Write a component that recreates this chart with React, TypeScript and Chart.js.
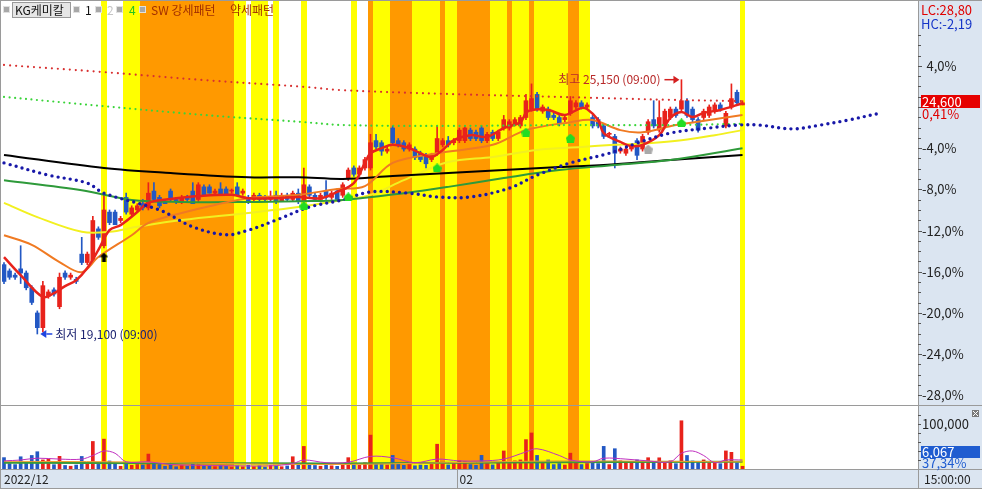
import React, { useEffect, useRef } from 'react';
import { Chart, registerables } from 'chart.js';

Chart.register(...registerables);

// ---------------- data ----------------
const STOCK_NAME = 'KG케미칼';
const BASE_PRICE = 24500;

const OPEN = [
  20750, 20600, 20500, 20650, 20550, 20200, 19600, 19250, 20000, 20150,
  19750, 20550, 20450, 20400, 21000, 20800, 20850, 21600, 21200, 22000,
  22000, 21800, 22350, 21950, 22050, 22200, 22100, 22500, 22350, 22250,
  22500, 22300, 22250, 22350, 22500, 22300, 22600, 22600, 22450, 22550,
  22550, 22500, 22600, 22450, 22350, 22300, 22400, 22350, 22300, 22400,
  22250, 22400, 22300, 22450, 22250, 22600, 22400, 22300, 22500, 22350,
  22500, 22400, 22800, 23050, 22900, 23050, 23050, 23700, 23650, 23450,
  24000, 23700, 23650, 23500, 23500, 23400, 23350, 23250, 23400, 23600,
  23700, 23650, 23700, 23700, 23950, 23900, 24000, 23700, 23900, 23750,
  24000, 24000, 24100, 24050, 24250, 24450, 24800, 24400, 24450, 24300,
  24250, 24200, 24350, 24500, 24600, 24500, 24250, 24200, 24050, 23850,
  23800, 23450, 23400, 23500, 23700, 23500, 23900, 24200, 23950, 24050,
  24250, 24450, 24450, 24650, 24450, 24200, 24250, 24300, 24400, 24550,
  24050, 24500, 24850, 24550,
];
const HIGH = [
  20800, 20650, 20550, 21200, 20600, 20250, 19650, 20350, 20150, 20200,
  20550, 20600, 20550, 20450, 21400, 21050, 21900, 21650, 22400, 22050,
  22050, 21900, 22450, 22150, 22200, 22300, 22700, 22700, 22400, 22300,
  22550, 22350, 22400, 22400, 22700, 22700, 22650, 22650, 22550, 22700,
  22600, 22550, 22700, 22550, 22400, 22450, 22450, 22400, 22500, 22500,
  22450, 22450, 22500, 22550, 23050, 22650, 22450, 22450, 22750, 22500,
  22550, 22700, 23050, 23100, 23100, 23300, 23850, 23850, 23700, 23550,
  24050, 23750, 23700, 23650, 23550, 23450, 23400, 23400, 24050, 23750,
  23800, 23750, 24000, 24050, 24000, 23950, 24050, 23900, 23950, 23950,
  24300, 24200, 24250, 24300, 24800, 25050, 24850, 24550, 24500, 24350,
  24300, 24300, 24750, 24650, 24650, 24600, 24300, 24250, 24100, 23900,
  23850, 23550, 23550, 23600, 23750, 23850, 24200, 24650, 24650, 24450,
  24500, 24500, 25150, 24700, 24500, 24250, 24450, 24550, 24600, 24600,
  24400, 25050, 24900, 24650,
];
const LOW = [
  20300, 20400, 20400, 20300, 20150, 19800, 19100, 19150, 19950, 20000,
  19700, 20400, 20400, 20300, 20750, 20750, 20800, 21350, 21150, 21700,
  21700, 21750, 21950, 21900, 22000, 22050, 22050, 22250, 22100, 22200,
  22250, 22200, 22200, 22250, 22200, 22250, 22400, 22450, 22400, 22400,
  22400, 22450, 22400, 22400, 22200, 22250, 22250, 22250, 22250, 22200,
  22250, 22250, 22250, 22200, 22200, 22350, 22250, 22250, 22300, 22300,
  22250, 22350, 22750, 22850, 22850, 23000, 23000, 23500, 23350, 23400,
  23600, 23550, 23450, 23450, 23250, 23200, 23050, 23200, 23350, 23550,
  23550, 23600, 23650, 23650, 23700, 23700, 23650, 23650, 23700, 23700,
  23950, 23950, 24050, 24000, 24200, 24400, 24400, 24350, 24200, 24200,
  24050, 24150, 24300, 24450, 24450, 24450, 24000, 24000, 23750, 23800,
  23050, 23400, 23350, 23450, 23250, 23450, 23850, 24000, 23900, 24000,
  24200, 24250, 24400, 24250, 24150, 23900, 24200, 24250, 24350, 24400,
  24000, 24450, 24550, 24550,
];
const CLOSE = [
  20350, 20450, 20450, 20550, 20200, 19850, 19250, 20250, 20100, 20050,
  20450, 20450, 20500, 20350, 20800, 21000, 21800, 21400, 22050, 21750,
  21700, 21850, 22000, 22100, 22150, 22100, 22450, 22300, 22150, 22200,
  22300, 22250, 22350, 22300, 22200, 22650, 22400, 22450, 22500, 22400,
  22400, 22500, 22400, 22500, 22250, 22400, 22300, 22300, 22350, 22250,
  22400, 22300, 22450, 22250, 22650, 22400, 22300, 22400, 22350, 22450,
  22300, 22650, 23000, 22900, 23050, 23250, 23650, 23550, 23450, 23500,
  23650, 23600, 23500, 23600, 23300, 23250, 23150, 23350, 23750, 23700,
  23600, 23700, 23950, 24000, 23750, 23750, 23700, 23850, 23750, 23900,
  24200, 24150, 24200, 24250, 24650, 24700, 24450, 24500, 24250, 24250,
  24100, 24250, 24650, 24600, 24500, 24550, 24050, 24050, 23800, 23850,
  23400, 23500, 23500, 23550, 23350, 23800, 24150, 24050, 24250, 24400,
  24450, 24300, 24650, 24300, 24200, 23950, 24400, 24500, 24550, 24450,
  24350, 24700, 24600, 24600,
];
const VOLUME = [
  25300, 12100, 9800, 27200, 14300, 30100, 38400, 20200, 22300, 9600,
  28100, 7900, 6200, 8800, 27900, 11800, 61200, 10300, 66400, 17800,
  12200, 6100, 13900, 8200, 10100, 8900, 33200, 12300, 9900, 6100,
  9200, 5100, 7800, 6300, 10200, 9100, 7200, 5900, 5200, 7900,
  6100, 4200, 7100, 4900, 8100, 5200, 6900, 4100, 7800, 5900,
  5100, 6800, 27300, 9100, 50200, 10100, 7900, 6200, 8800, 7100,
  5900, 12100, 25200, 9900, 8100, 13800, 75300, 12100, 10200, 8900,
  30200, 11800, 8100, 9900, 7200, 8800, 8100, 10200, 55100, 13900,
  9100, 11900, 18200, 16100, 9800, 8100, 30300, 12100, 9200, 13800,
  40100, 12200, 18100, 20200, 65300, 80100, 30200, 13900, 20100, 9800,
  12100, 8900, 35200, 14100, 9900, 12200, 13900, 12100, 50300, 9800,
  45100, 18200, 13900, 16100, 20200, 15900, 25100, 14200, 24900, 16100,
  18200, 11900, 107200, 30100, 17900, 14100, 20200, 13800, 16200, 11900,
  40200, 37100, 13900, 6067,
];

// moving-average style lines: [candle index, value]
const MA_RED: [number, number][] = [
  [0, 20930], [3, 20500], [7, 19980], [9, 20070], [11, 20240], [13, 20380], [15, 20670], [17, 21100],
  [19, 21570], [21, 21690], [24, 22000], [26, 22220], [30, 22310], [35, 22380], [41, 22410], [44, 22330],
  [49, 22330], [53, 22360], [57, 22330], [60, 22480], [63, 22690], [65, 23170], [66, 23400], [68, 23520],
  [70, 23600], [73, 23520], [75, 23400], [77, 23310], [79, 23480], [81, 23710], [84, 23830], [87, 23790],
  [90, 24000], [93, 24140], [94, 24360], [95, 24430], [98, 24430], [101, 24310], [104, 24480], [105, 24450],
  [107, 24190], [108, 23880], [111, 23670], [113, 23570], [115, 23600], [118, 23830], [120, 24240],
  [122, 24380], [124, 24260], [126, 24360], [129, 24430], [133, 24590],
];
const MA_ORANGE: [number, number][] = [
  [0, 21450], [5, 21220], [10, 20810], [14, 20570], [17, 20930], [23, 21450], [26, 21740], [32, 21980],
  [38, 22170], [44, 22330], [53, 22410], [60, 22550], [65, 22620], [70, 23170], [78, 23400], [88, 23600],
  [94, 23950], [102, 24140], [106, 24190], [111, 23950], [115, 23900], [121, 24070], [127, 24190], [133, 24310],
];
const MA_YELLOW: [number, number][] = [
  [0, 22220], [6, 21880], [14, 21530], [19, 21530], [24, 21650], [32, 21810], [44, 21980], [53, 22120],
  [61, 22290], [66, 22410], [72, 22760], [80, 23190], [88, 23310], [96, 23480], [104, 23550], [110, 23600],
  [116, 23640], [122, 23710], [128, 23830], [133, 23950],
];
const MA_GREEN: [number, number][] = [
  [0, 22760], [14, 22520], [23, 22290], [32, 22240], [44, 22240], [53, 22260], [61, 22290], [72, 22450],
  [80, 22600], [90, 22810], [100, 23000], [110, 23120], [120, 23240], [133, 23520],
];
const MA_BLACK: [number, number][] = [
  [0, 23360], [18, 23050], [30, 22930], [44, 22830], [53, 22830], [61, 22790], [70, 22860], [80, 22930],
  [90, 23000], [100, 23070], [110, 23140], [120, 23240], [133, 23360],
];
const BLUE_DOTS: [number, number][] = [
  [0, 23170], [8, 22880], [15, 22690], [18, 22450], [28, 22050], [34, 21650], [40, 21460], [44, 21570],
  [49, 21810], [55, 22120], [61, 22290], [66, 22480], [73, 22450], [78, 22360], [84, 22360], [91, 22570],
  [96, 22880], [102, 23170], [109, 23400], [114, 23640], [120, 23880], [127, 24000], [132, 24070],
  [136, 24070], [142, 23980], [147, 24070], [152, 24190], [158, 24360],
];
const RED_DOTS: [number, number][] = [
  [0, 25500], [18, 25330], [36, 25140], [54, 24980], [61, 24900], [80, 24810], [100, 24740], [120, 24670], [133, 24640],
];
const GREEN_DOTS: [number, number][] = [
  [0, 24740], [18, 24520], [36, 24310], [54, 24140], [61, 24070], [80, 24050], [100, 24070], [120, 24070], [133, 24100],
];

// signal markers: [candle index, price]
const BUY_SIGNALS: [number, number][] = [[18, 20930]];
const PATTERN_SIGNALS: [number, number][] = [[54, 22150], [62, 22360], [78, 23050], [94, 23900], [102, 23760], [122, 24120]];
const GREY_SIGNALS: [number, number][] = [[116, 23500]];

// volume moving averages: [candle index, volume]
const VOL_MA_MAGENTA: [number, number][] = [
  [0, 18000], [3, 20000], [6, 24000], [10, 22000], [14, 22000], [16, 30000], [18, 40000], [20, 35000],
  [22, 16000], [26, 16000], [30, 10000], [36, 8000], [42, 7000], [48, 7000], [52, 12000], [54, 20000],
  [58, 14000], [62, 15000], [66, 28000], [70, 25000], [74, 14000], [78, 22000], [82, 18000], [86, 18000],
  [90, 22000], [94, 38000], [96, 45000], [100, 30000], [102, 20000], [106, 16000], [108, 24000], [112, 22000],
  [116, 18000], [120, 16000], [122, 35000], [124, 40000], [126, 30000], [128, 14000], [130, 20000], [133, 20000],
];
const VOL_MA_GREEN: [number, number][] = [[0, 14000], [30, 13000], [60, 12500], [90, 14500], [133, 16000]];
const VOL_MA_ORANGE: [number, number][] = [[0, 17000], [20, 16000], [40, 12000], [60, 10000], [80, 14000], [100, 18000], [120, 17000], [133, 16000]];

// pattern bands: [first candle, last candle, kind]  Y = weak pattern, O = strong pattern
const BANDS: [number, number, string][] = [
  [18, 18, 'Y'], [22, 24, 'Y'], [25, 41, 'O'], [42, 43, 'Y'], [45, 47, 'Y'], [49, 49, 'Y'], [54, 54, 'Y'],
  [63, 63, 'Y'], [66, 66, 'O'], [67, 69, 'Y'], [70, 73, 'O'], [74, 78, 'Y'], [79, 79, 'O'], [80, 81, 'Y'],
  [82, 87, 'O'], [88, 90, 'Y'], [91, 91, 'O'], [92, 94, 'Y'], [95, 95, 'O'], [96, 101, 'Y'], [102, 103, 'O'],
  [104, 105, 'Y'], [133, 133, 'Y'],
];

const PCT_TICKS = [4, -4, -8, -12, -16, -20, -24, -28];
const VOL_TICK_LABELS = [100000];
const DATE_TICK_INDEX = [0, 82];
const DATE_TICK_TEXT = ['2022/12', '02'];
const TIME_LABEL = '15:00:00';
const LOW_TIME = '09:00';
const HIGH_TIME = '09:00';
const VOLUME_RATIO_TEXT = '37,34%';

// ---------------- styling ----------------
const FONT = '"Noto Sans CJK KR", "Noto Sans", sans-serif';
const UP = '#e8221b';
const DOWN = '#2358c4';
const YELLOW_BAND = '#ffff00';
const ORANGE_BAND = '#ff9900';
const AXIS_BG = '#dbe5f1';
const VOL_PANEL_H = 64;

const X_MIN = -0.36;
const X_MAX = 164.6;
const Y_MAX = 27022;
const Y_MIN = 15888;
const VOL_MAX = 1040000;

const fmtDec = (v: number, d: number) => v.toFixed(d).replace('.', ',');
const fmtInt = (v: number) => Math.round(v).toLocaleString('en-US');
const pts = (arr: [number, number][]) => arr.map(([x, y]) => ({ x, y }));

function makeMarker(color: string, kind: 'arrow' | 'house'): HTMLCanvasElement {
  const c = document.createElement('canvas');
  c.width = 9;
  c.height = 9;
  const g = c.getContext('2d')!;
  g.fillStyle = color;
  g.beginPath();
  if (kind === 'arrow') {
    g.moveTo(4.5, 0); g.lineTo(9, 4.5); g.lineTo(6.5, 4.5); g.lineTo(6.5, 9);
    g.lineTo(2.5, 9); g.lineTo(2.5, 4.5); g.lineTo(0, 4.5);
  } else {
    g.moveTo(4.5, 0); g.lineTo(9, 4); g.lineTo(8, 9); g.lineTo(1, 9); g.lineTo(0, 4);
  }
  g.closePath();
  g.fill();
  return c;
}

const paintPlugin = {
  id: 'paint',
  beforeDraw(chart: any) {
    const { ctx, chartArea: a, width, height } = chart;
    ctx.save();
    ctx.fillStyle = '#ffffff';
    ctx.fillRect(0, 0, width, height);
    ctx.fillStyle = AXIS_BG;
    ctx.fillRect(a.right, 0, width - a.right, a.bottom);
    ctx.fillRect(0, a.bottom, width, height - a.bottom);
    ctx.restore();
  },
  beforeDatasetsDraw(chart: any) {
    const { ctx, chartArea: a, scales } = chart;
    const xs = scales.x;
    ctx.save();
    ctx.beginPath();
    ctx.rect(a.left, a.top, a.right - a.left, a.bottom - a.top);
    ctx.clip();
    for (const [s, e, k] of BANDS) {
      const x1 = Math.round(xs.getPixelForValue(s - 0.5));
      const x2 = Math.round(xs.getPixelForValue(e + 0.5));
      ctx.fillStyle = k === 'O' ? ORANGE_BAND : YELLOW_BAND;
      ctx.fillRect(x1, a.top, x2 - x1, a.bottom - a.top);
    }
    ctx.restore();
  },
  afterDraw(chart: any) {
    const { ctx, chartArea: a, width, height, scales } = chart;
    const xs = scales.x, ys = scales.y, yv = scales.yv;
    const sepY = a.bottom - VOL_PANEL_H;
    const line = (x1: number, y1: number, x2: number, y2: number) => {
      ctx.beginPath(); ctx.moveTo(x1, y1); ctx.lineTo(x2, y2); ctx.stroke();
    };
    ctx.save();
    // frame lines
    ctx.strokeStyle = '#9a9a9a';
    ctx.lineWidth = 1;
    line(0.5, 0, 0.5, height);
    line(0, 0.5, width, 0.5);
    line(a.right + 0.5, 0, a.right + 0.5, height);
    line(0, sepY + 0.5, width, sepY + 0.5);
    line(0, a.bottom + 0.5, width, a.bottom + 0.5);
    line(0, height - 0.5, width, height - 0.5);

    // price axis ticks
    ctx.strokeStyle = '#555';
    for (let p = -29; p <= 10; p++) {
      const py = Math.round(ys.getPixelForValue(BASE_PRICE * (1 + p / 100))) + 0.5;
      if (py < 32 || py > sepY - 3) continue;
      line(a.right, py, a.right + (p % 4 === 0 ? 4 : 3), py);
    }
    ctx.font = `13px ${FONT}`;
    ctx.textBaseline = 'middle';
    ctx.textAlign = 'left';
    ctx.fillStyle = '#222';
    const minusW = ctx.measureText('-').width;
    for (const p of PCT_TICKS) {
      const py = ys.getPixelForValue(BASE_PRICE * (1 + p / 100));
      ctx.fillText(`${fmtDec(p, 1)}%`, a.right + 4 + (p >= 0 ? minusW : 0), py);
    }
    // volume axis
    for (let v = 20000; v <= 140000; v += 20000) {
      const py = Math.round(yv.getPixelForValue(v)) + 0.5;
      if (py < sepY + 3) continue;
      line(a.right, py, a.right + 3, py);
    }
    for (const v of VOL_TICK_LABELS) {
      ctx.fillStyle = '#222';
      ctx.fillText(fmtInt(v), a.right + 4, yv.getPixelForValue(v));
    }

    // last price / summary labels
    const n = CLOSE.length;
    const last = CLOSE[n - 1];
    let minLow = Infinity, minIdx = 0, maxHigh = -Infinity, maxIdx = 0;
    LOW.forEach((v, i) => { if (v < minLow) { minLow = v; minIdx = i; } });
    HIGH.forEach((v, i) => { if (v > maxHigh) { maxHigh = v; maxIdx = i; } });
    ctx.fillStyle = '#e00000';
    ctx.fillText(`LC:${fmtDec((last / minLow - 1) * 100, 2)}`, a.right + 3, 10);
    ctx.fillStyle = '#1535c8';
    ctx.fillText(`HC:${fmtDec((last / maxHigh - 1) * 100, 2)}`, a.right + 3, 24);

    const lp = ys.getPixelForValue(last);
    ctx.fillStyle = '#e60000';
    ctx.fillRect(a.right + 3, Math.round(lp - 8), 59, 13);
    ctx.fillStyle = '#ffffff';
    ctx.fillText(fmtInt(last), a.right + 4, Math.round(lp - 8) + 7);
    ctx.fillStyle = '#e00000';
    ctx.fillText(`${fmtDec((last / BASE_PRICE - 1) * 100, 2)}%`, a.right + 4, Math.round(lp - 8) + 19);

    const lv = VOLUME[n - 1];
    const vp = yv.getPixelForValue(lv);
    ctx.fillStyle = '#1f5cd0';
    ctx.fillRect(a.right + 3, Math.round(vp - 20), 59, 12);
    ctx.fillStyle = '#ffffff';
    ctx.fillText(fmtInt(lv), a.right + 4, Math.round(vp - 20) + 6);
    ctx.fillStyle = '#1f5cd0';
    ctx.fillText(VOLUME_RATIO_TEXT, a.right + 4, Math.round(vp - 20) + 17);

    // little close box on volume panel
    ctx.fillStyle = '#7a7a7a';
    ctx.fillRect(width - 10, sepY + 5, 7, 7);
    ctx.strokeStyle = '#ffffff';
    line(width - 9, sepY + 6, width - 4, sepY + 11);
    line(width - 4, sepY + 6, width - 9, sepY + 11);

    // bottom strip labels
    ctx.font = `12px ${FONT}`;
    ctx.fillStyle = '#222';
    ctx.strokeStyle = '#9a9a9a';
    const stripY = (a.bottom + height) / 2 + 0.5;
    DATE_TICK_INDEX.forEach((idx, k) => {
      const bx = idx === 0 ? a.left : Math.round(xs.getPixelForValue(idx - 0.5)) + 0.5;
      if (idx !== 0) line(bx, a.bottom, bx, height);
      ctx.fillText(DATE_TICK_TEXT[k], bx + 2, stripY);
    });
    ctx.fillText(TIME_LABEL, a.right + 6, stripY);

    // extreme annotations
    ctx.font = `12px ${FONT}`;
    const lx = xs.getPixelForValue(minIdx);
    const ly = ys.getPixelForValue(minLow);
    ctx.fillStyle = '#1f45e0';
    ctx.strokeStyle = '#1f45e0';
    ctx.lineWidth = 1.5;
    ctx.beginPath(); ctx.moveTo(lx + 3, ly); ctx.lineTo(lx + 9, ly - 4); ctx.lineTo(lx + 9, ly + 4); ctx.closePath(); ctx.fill();
    line(lx + 9, ly, lx + 15, ly);
    ctx.fillStyle = '#1c2370';
    ctx.fillText(`최저 ${fmtInt(minLow)} (${LOW_TIME})`, lx + 18, ly);

    const hx = xs.getPixelForValue(maxIdx);
    const hy = ys.getPixelForValue(maxHigh);
    ctx.strokeStyle = '#d42020';
    ctx.fillStyle = '#d42020';
    line(hx - 17, hy, hx - 6, hy);
    ctx.beginPath(); ctx.moveTo(hx - 2, hy); ctx.lineTo(hx - 8, hy - 4); ctx.lineTo(hx - 8, hy + 4); ctx.closePath(); ctx.fill();
    ctx.fillStyle = '#b82a2a';
    ctx.textAlign = 'right';
    ctx.fillText(`최고 ${fmtInt(maxHigh)} (${HIGH_TIME})`, hx - 21, hy);
    ctx.textAlign = 'left';

    // legend row
    ctx.lineWidth = 1;
    const sq = (x: number) => {
      ctx.fillStyle = '#a8a8a8';
      ctx.fillRect(x, 7, 5, 5);
      ctx.strokeStyle = '#e0e0e0';
      ctx.strokeRect(x - 0.5, 6.5, 6, 6);
    };
    sq(4);
    ctx.fillStyle = '#e6e6e6';
    ctx.fillRect(12, 2, 59, 16);
    ctx.strokeStyle = '#9a9a9a';
    ctx.strokeRect(12.5, 2.5, 58, 15);
    ctx.fillStyle = '#111';
    ctx.font = `12px ${FONT}`;
    ctx.fillText(STOCK_NAME, 15, 10);
    sq(74);
    ctx.fillStyle = '#111';
    ctx.fillText('1', 85, 10);
    sq(96);
    ctx.fillStyle = '#c4c4c4';
    ctx.fillText('2', 107, 10);
    sq(117);
    ctx.fillStyle = '#1fc41f';
    ctx.fillText('4', 129, 10);
    sq(140);
    ctx.fillStyle = '#a33000';
    ctx.fillText('SW 강세패턴', 151, 10);
    ctx.fillText('약세패턴', 230, 10);
    ctx.restore();
  },
};

export default function App() {
  const ref = useRef<HTMLCanvasElement | null>(null);
  useEffect(() => {
    document.body.style.margin = '0';
    const canvas = ref.current;
    if (!canvas) return;
    const idx = OPEN.map((_, i) => i);
    const colors = idx.map((i) => (CLOSE[i] >= OPEN[i] ? UP : DOWN));
    const blackArrow = makeMarker('#000000', 'arrow');
    const greenHouse = makeMarker('#22dd22', 'house');
    const greyHouse = makeMarker('#a9a9a9', 'house');

    const lineDs = (data: [number, number][], color: string, width: number, order: number, extra: any = {}) => ({
      type: 'line',
      data: pts(data),
      borderColor: color,
      borderWidth: width,
      pointRadius: 0,
      tension: 0.35,
      fill: false,
      order,
      yAxisID: 'y',
      ...extra,
    });
    const markerDs = (data: [number, number][], img: HTMLCanvasElement) => ({
      type: 'line',
      data: pts(data),
      showLine: false,
      pointStyle: img,
      pointRadius: 5,
      order: 0,
      yAxisID: 'y',
    });

    const chart = new Chart(canvas, {
      type: 'line',
      data: {
        datasets: [
          {
            type: 'bar',
            data: idx.map((i) => ({ x: i, y: VOLUME[i] })),
            backgroundColor: colors,
            barThickness: 3,
            grouped: false,
            yAxisID: 'yv',
            order: 40,
          },
          {
            type: 'bar',
            data: idx.map((i) => ({ x: i, y: [LOW[i], HIGH[i]] })),
            backgroundColor: colors,
            barThickness: 1,
            grouped: false,
            yAxisID: 'y',
            order: 31,
          },
          {
            type: 'bar',
            data: idx.map((i) => ({ x: i, y: [OPEN[i], CLOSE[i]] })),
            backgroundColor: colors,
            barThickness: 4,
            minBarLength: 1,
            grouped: false,
            yAxisID: 'y',
            order: 30,
          },
          lineDs(VOL_MA_GREEN, '#3a9a3a', 2, 22, { yAxisID: 'yv' }),
          lineDs(VOL_MA_ORANGE, '#f0a030', 1, 21, { yAxisID: 'yv' }),
          lineDs(VOL_MA_MAGENTA, '#c030c0', 1, 20, { yAxisID: 'yv' }),
          lineDs(MA_YELLOW, '#f2f020', 2, 15),
          lineDs(MA_BLACK, '#000000', 2, 14),
          lineDs(MA_GREEN, '#2e9a3a', 2, 13),
          lineDs(MA_ORANGE, '#f07a22', 2, 12),
          lineDs(MA_RED, '#e8231c', 2.5, 11),
          lineDs(RED_DOTS, '#d83030', 2.2, 9, { borderDash: [0, 6], borderCapStyle: 'round' }),
          lineDs(GREEN_DOTS, '#3ad43a', 2.2, 8, { borderDash: [0, 5.5], borderCapStyle: 'round' }),
          lineDs(BLUE_DOTS, '#1818a8', 3.4, 7, { borderDash: [0, 6.2], borderCapStyle: 'round' }),
          markerDs(BUY_SIGNALS, blackArrow),
          markerDs(PATTERN_SIGNALS, greenHouse),
          markerDs(GREY_SIGNALS, greyHouse),
        ] as any,
      },
      options: {
        responsive: false,
        animation: false,
        events: [],
        layout: { autoPadding: false, padding: { left: 2, right: 64, top: 1, bottom: 20 } },
        plugins: { legend: { display: false }, tooltip: { enabled: false } },
        scales: {
          x: { type: 'linear', min: X_MIN, max: X_MAX, display: false, offset: false },
          y: { type: 'linear', min: Y_MIN, max: Y_MAX, display: false },
          yv: { type: 'linear', min: 0, max: VOL_MAX, display: false },
        },
      } as any,
      plugins: [paintPlugin],
    });
    return () => chart.destroy();
  }, []);

  return (
    <div style={{ position: 'absolute', left: 0, top: 0, width: 982, height: 489 }}>
      <canvas ref={ref} width={982} height={489} style={{ display: 'block' }} />
    </div>
  );
}
